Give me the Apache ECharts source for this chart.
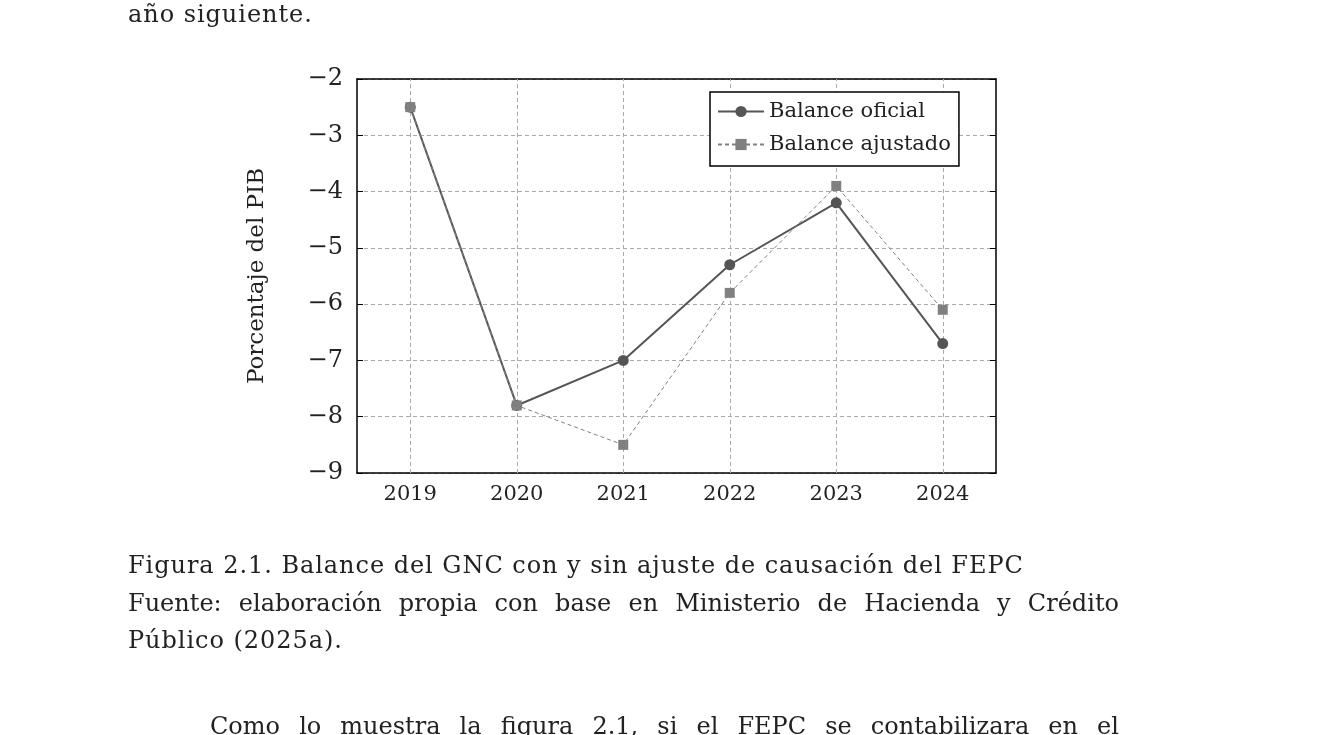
<!DOCTYPE html>
<html>
<head>
<meta charset="utf-8">
<script src="https://cdn.jsdelivr.net/npm/echarts@6/dist/echarts.min.js"></script>
<style>
  body { margin: 0; background: #fff; }
  #chart { position: absolute; left: 0; top: 0; width: 1330px; height: 735px; }
  .txt {
    position: absolute; left: 128px; width: 991px;
    font-family: "DejaVu Serif", serif; font-size: 24px; letter-spacing: 0.95px; color: #222;
    line-height: 37.5px; text-align: justify; white-space: nowrap;
  }
  .just { text-align-last: justify; white-space: normal; letter-spacing: 0; }
</style>
</head>
<body>
<div id="chart"></div>
<div class="txt" style="top:-4px">año siguiente.</div>
<div class="txt" style="top:547px">Figura 2.1. Balance del GNC con y sin ajuste de causación del FEPC</div>
<div class="txt just" style="top:585px">Fuente: elaboración propia con base en Ministerio de Hacienda y Crédito</div>
<div class="txt" style="top:622px">Público (2025a).</div>
<div class="txt just" style="top:708px;left:210px;width:909px">Como lo muestra la figura 2.1, si el FEPC se contabilizara en el</div>
<script>
// datos
const years = ['2019', '2020', '2021', '2022', '2023', '2024']
const balanceOficial = [-2.5, -7.8, -7.0, -5.3, -4.2, -6.7]
const balanceAjustado = [-2.5, -7.8, -8.5, -5.8, -3.9, -6.1]
const yTicks = { min: -9, max: -2, step: 1 }

const serif = '"DejaVu Serif", serif'
const gridDash = { color: '#aaa', width: 1, type: [4, 3] }
const minus = v => (v < 0 ? '\u2212' + Math.abs(v) : String(v))

const chart = echarts.init(document.getElementById('chart'))

const option = {
  animation: false,
  grid: { left: 357, top: 79, right: 334, bottom: 262 },
  legend: {
    orient: 'vertical',
    left: 710, top: 92,
    backgroundColor: '#fff',
    borderColor: '#000', borderWidth: 1.5, borderRadius: 0,
    padding: [9, 8, 11, 7],
    itemGap: 12, itemWidth: 46, itemHeight: 14,
    textStyle: { fontFamily: serif, fontSize: 21, color: '#222' },
    data: ['Balance oficial', 'Balance ajustado']
  },
  xAxis: [{
    type: 'category', data: years, boundaryGap: true,
    axisLine: { lineStyle: { color: '#000', width: 1.5 } },
    axisTick: { alignWithLabel: true, inside: true, length: 6, lineStyle: { color: '#000' } },
    axisLabel: { fontFamily: serif, fontSize: 21, color: '#222', margin: 11 },
    splitLine: { show: false }
  }, {
    type: 'category', data: years, boundaryGap: true, position: 'top',
    axisLine: { lineStyle: { color: '#000', width: 1.5 } },
    axisTick: { alignWithLabel: true, inside: true, length: 6, lineStyle: { color: '#000' } },
    axisLabel: { show: false }
  }],
  yAxis: [{
    type: 'value', min: yTicks.min, max: yTicks.max, interval: yTicks.step,
    name: 'Porcentaje del PIB', nameLocation: 'middle', nameGap: 88,
    nameTextStyle: { fontFamily: serif, fontSize: 23, color: '#222' },
    axisLine: { show: true, lineStyle: { color: '#000', width: 1.5 } },
    axisTick: { show: true, inside: true, length: 6, lineStyle: { color: '#000' } },
    axisLabel: { fontFamily: serif, fontSize: 24, color: '#222', margin: 14, formatter: minus, padding: [3, 0, 0, 0] },
    splitLine: { show: true, lineStyle: gridDash }
  }, {
    type: 'value', min: yTicks.min, max: yTicks.max, interval: yTicks.step, position: 'right',
    axisLine: { show: true, lineStyle: { color: '#000', width: 1.5 } },
    axisTick: { show: true, inside: true, length: 6, lineStyle: { color: '#000' } },
    axisLabel: { show: false },
    splitLine: { show: false }
  }],
  series: [{
    // rejilla vertical en cada año
    type: 'line', data: [], silent: true,
    markLine: {
      z: 1, silent: true, symbol: 'none', label: { show: false },
      lineStyle: gridDash,
      data: years.map(y => ({ xAxis: y }))
    }
  }, {
    name: 'Balance oficial', type: 'line', z: 3,
    data: balanceOficial,
    symbol: 'circle', symbolSize: 11,
    itemStyle: { color: '#555' },
    lineStyle: { color: '#555', width: 2 }
  }, {
    name: 'Balance ajustado', type: 'line', z: 4,
    data: balanceAjustado,
    symbol: 'rect', symbolSize: 10,
    itemStyle: { color: '#808080' },
    lineStyle: { color: '#808080', width: 1, type: [4, 3] }
  }]
}

chart.setOption(option)
</script>
</body>
</html>
